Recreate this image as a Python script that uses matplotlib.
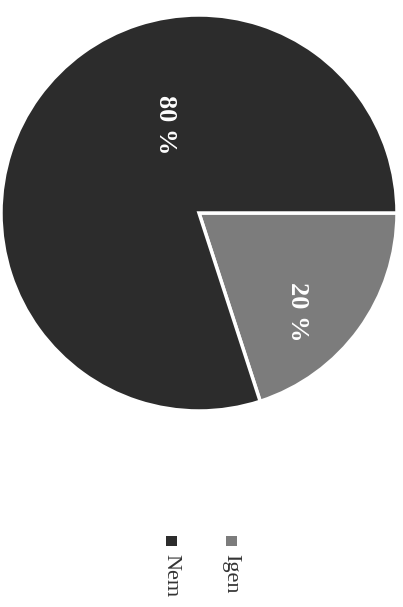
import matplotlib.pyplot as plt
from matplotlib.patches import Rectangle

# scanned survey chart, page rotated 90 degrees
labels = ['Igen', 'Nem']
values = [20, 80]
colors = ['#7c7c7c', '#2c2c2c']

plt.rcParams['font.family'] = ['Liberation Serif', 'DejaVu Serif']

fig = plt.figure(figsize=(4.03, 6.07), dpi=100)
ax = fig.add_axes([1/403, 1 - 411/607, 396/403, 396/607])

wedges, texts, autotexts = ax.pie(values, colors=colors, startangle=0, counterclock=False,
                                  autopct=lambda p: f'{p:.0f} %',
                                  wedgeprops=dict(edgecolor='white', linewidth=2.5))
ax.set_xlim(-1, 1)
ax.set_ylim(-1, 1)
ax.set_aspect('equal')

# label spots as placed in the scan
spots = [(0.495, -0.50), (-0.167, 0.444)]
for t, pos in zip(autotexts, spots):
	t.set_position(pos)
	t.set_rotation(270)
	t.set_color('white')
	t.set_fontweight('bold')
	t.set_fontsize(19)
	t.set_ha('center')
	t.set_va('center')

# legend, rotated with the page
legend_x = [231/403, 171/403]
for lab, col, x in zip(labels, colors, legend_x):
	fig.add_artist(Rectangle((x - 5.5/403, 1 - 546/607), 11/403, 10/607,
	                         transform=fig.transFigure, facecolor=col, edgecolor='none'))
	fig.text(x, 1 - 554/607, lab, rotation=270, ha='center', va='top',
	         fontsize=16, color='#333333')

fig.savefig('out.png', dpi=100)
